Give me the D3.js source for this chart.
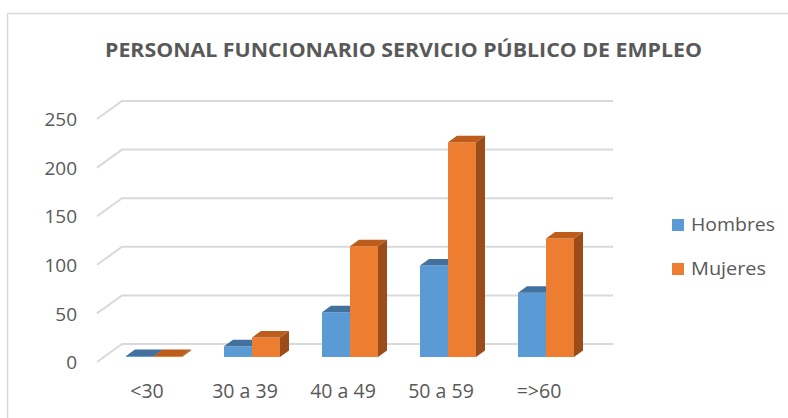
<!DOCTYPE html>
<html lang="es">
	<head>
		<meta charset="utf-8">
		<title>Personal funcionario servicio público de empleo</title>
		<script src="https://cdn.jsdelivr.net/npm/d3@7/dist/d3.min.js"></script>
		<style>
			body { margin: 0; background: #ffffff; }
			text { font-family: "Open Sans", sans-serif; fill: #595959; }
		</style>
	</head>
	<body>
		<script>
			// data
			var categories = ["<30", "30 a 39", "40 a 49", "50 a 59", "=>60"];
			var series = ["Hombres", "Mujeres"];
			var hombres = [1, 11, 46, 94, 66];
			var mujeres = [1, 20, 114, 221, 122];
			var y_ticks = [0, 50, 100, 150, 200, 250];

			// page parameters
			var width = 788;
			var height = 418;
			var depth_x = 25;   // oblique depth of the floor
			var depth_y = -18;
			var bar_t0 = 0.28;  // bar starts this far into the depth
			var bar_t1 = 0.64;

			var colors = {
				Hombres: { front: "#5b9bd5", top: "#41719c", side: "#3a6690" },
				Mujeres: { front: "#ed7d31", top: "#bd5d1c", side: "#9c4c19" }
			};

			var svg = d3.select("body").append("svg")
				.attr("width", width)
				.attr("height", height);

			// chart border
			svg.append("rect")
				.attr("x", 7.5).attr("y", 13.5)
				.attr("width", 800).attr("height", 420)
				.attr("fill", "none")
				.attr("stroke", "#d9d9d9")
				.attr("stroke-width", 1.5);

			// scales (front plane)
			var x_scale = d3.scaleBand()
				.domain(categories)
				.range([98, 588]);

			var s_scale = d3.scaleBand()
				.domain(series)
				.range([-28, 28]);

			var y_scale = d3.scaleLinear()
				.domain([0, 250])
				.range([362, 119]);

			// gridlines: diagonal on the side wall, horizontal on the back wall
			var x0 = x_scale.range()[0] - 1;
			var x1 = x_scale.range()[1] + depth_x;
			svg.append("g").selectAll("path")
				.data(y_ticks)
				.enter()
				.append("path")
				.attr("d", function (d) {
					var yf = y_scale(d);
					return "M" + x0 + "," + yf +
						"L" + (x0 + depth_x) + "," + (yf + depth_y) +
						"L" + x1 + "," + (yf + depth_y);
				})
				.attr("fill", "none")
				.attr("stroke", "#d9d9d9")
				.attr("stroke-width", 2);

			// y axis labels
			var y_axis = d3.axisLeft(y_scale)
				.tickValues(y_ticks)
				.tickSize(0)
				.tickPadding(0);
			var y_g = svg.append("g")
				.attr("transform", "translate(77,0)")
				.call(y_axis);
			y_g.select(".domain").remove();
			y_g.selectAll("text")
				.attr("dy", "0.35em")
				.style("font-size", "19px")
				.style("font-family", "'Open Sans', sans-serif")
				.attr("fill", "#595959");

			// x axis labels
			var x_axis = d3.axisBottom(x_scale)
				.tickSize(0)
				.tickPadding(0);
			var x_g = svg.append("g")
				.attr("transform", "translate(0,398)")
				.call(x_axis);
			x_g.select(".domain").remove();
			x_g.selectAll("text")
				.attr("dy", "0")
				.style("font-size", "19.5px")
				.style("font-family", "'Open Sans', sans-serif")
				.attr("fill", "#595959");

			// bars
			var bars = [];
			categories.forEach(function (c, i) {
				bars.push({ cat: c, s: "Hombres", v: hombres[i] });
				bars.push({ cat: c, s: "Mujeres", v: mujeres[i] });
			});

			var ox = depth_x * bar_t0, oy = depth_y * bar_t0;
			var dx = depth_x * (bar_t1 - bar_t0), dy = depth_y * (bar_t1 - bar_t0);

			var bar_g = svg.append("g").selectAll("g")
				.data(bars)
				.enter()
				.append("g");

			function geom(d) {
				var left = x_scale(d.cat) + x_scale.bandwidth() / 2 + s_scale(d.s) + ox;
				var right = left + s_scale.bandwidth();
				var bottom = y_scale(0) + oy;
				var top = y_scale(d.v) + oy;
				return { l: left, r: right, b: bottom, t: top };
			}

			// front face
			bar_g.append("path")
				.attr("d", function (d) {
					var g = geom(d);
					return "M" + g.l + "," + g.b + "L" + g.l + "," + g.t +
						"L" + g.r + "," + g.t + "L" + g.r + "," + g.b + "Z";
				})
				.attr("fill", function (d) { return colors[d.s].front; });

			// top face
			bar_g.append("path")
				.attr("d", function (d) {
					var g = geom(d);
					return "M" + g.l + "," + g.t + "L" + (g.l + dx) + "," + (g.t + dy) +
						"L" + (g.r + dx) + "," + (g.t + dy) + "L" + g.r + "," + g.t + "Z";
				})
				.attr("fill", function (d) { return colors[d.s].top; });

			// right side face
			bar_g.append("path")
				.attr("d", function (d) {
					var g = geom(d);
					return "M" + g.r + "," + g.b + "L" + g.r + "," + g.t +
						"L" + (g.r + dx) + "," + (g.t + dy) + "L" + (g.r + dx) + "," + (g.b + dy) + "Z";
				})
				.attr("fill", function (d) { return colors[d.s].side; });

			// title
			svg.append("text")
				.attr("x", 403.5)
				.attr("y", 57)
				.attr("text-anchor", "middle")
				.attr("textLength", 597)
				.attr("lengthAdjust", "spacingAndGlyphs")
				.style("font-size", "19px")
				.style("font-weight", "bold")
				.text("PERSONAL FUNCIONARIO SERVICIO PÚBLICO DE EMPLEO");

			// legend
			var legend_len = [84, 75];
			var legend = svg.append("g").selectAll("g")
				.data(series)
				.enter()
				.append("g")
				.attr("transform", function (d, i) {
					return "translate(672," + (219 + i * 44) + ")";
				});

			legend.append("rect")
				.attr("width", 12)
				.attr("height", 12)
				.attr("fill", function (d) { return colors[d].front; });

			legend.append("text")
				.attr("x", 19)
				.attr("y", 12)
				.attr("textLength", function (d, i) { return legend_len[i]; })
				.attr("lengthAdjust", "spacingAndGlyphs")
				.style("font-size", "18px")
				.text(function (d) { return d; });
		</script>
	</body>
</html>
